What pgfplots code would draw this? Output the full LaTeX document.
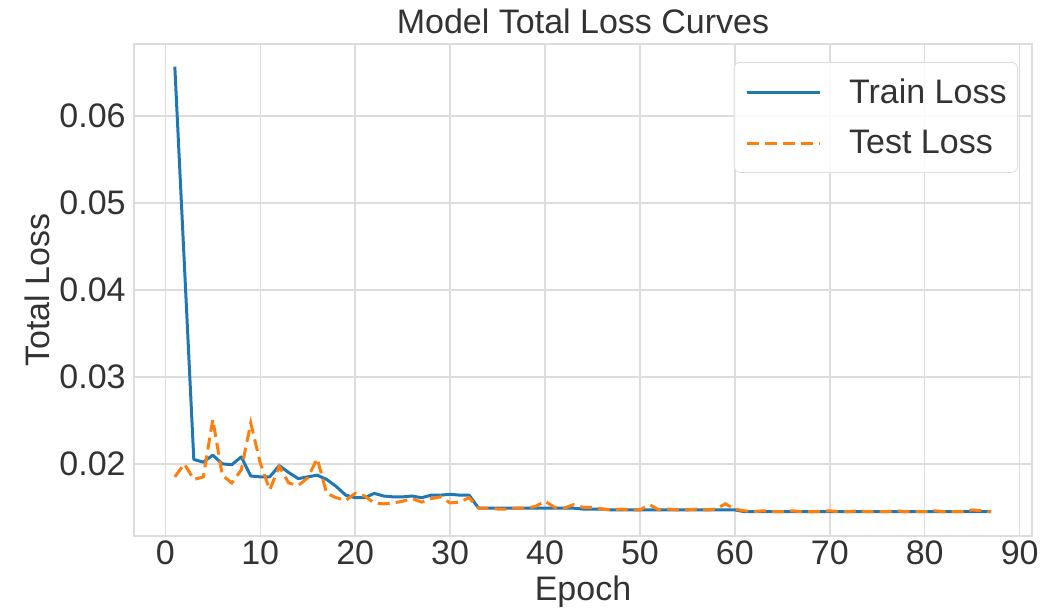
\documentclass[border=0pt]{standalone}
\usepackage{pgfplots}
\pgfplotsset{compat=1.18}
\usepackage{pgfplotstable}
\usepackage{fontspec}
\setmainfont{Liberation Sans}
\definecolor{trainc}{HTML}{1F77B4}
\definecolor{testc}{HTML}{FF7F0E}
\definecolor{gridc}{HTML}{DDDDDD}
\definecolor{txt}{HTML}{333333}

\pgfplotstableread{
epoch train test
1 0.0657 0.0185
2 0.0431 0.0200
3 0.0205 0.0182
4 0.0202 0.0185
5 0.0210 0.0251
6 0.0200 0.0187
7 0.0199 0.0178
8 0.0208 0.0193
9 0.0186 0.0247
10 0.0185 0.0201
11 0.0185 0.0170
12 0.0198 0.0197
13 0.0190 0.0178
14 0.0183 0.0175
15 0.0185 0.0184
16 0.0187 0.0206
17 0.0182 0.0166
18 0.0174 0.0161
19 0.0164 0.0158
20 0.0161 0.0166
21 0.0161 0.0163
22 0.0166 0.0155
23 0.0163 0.0154
24 0.0162 0.0155
25 0.0162 0.0157
26 0.0163 0.0160
27 0.0161 0.0156
28 0.0164 0.0160
29 0.0164 0.0162
30 0.0165 0.0155
31 0.0164 0.0156
32 0.0164 0.0161
33 0.0149 0.0149
34 0.0149 0.0149
35 0.0149 0.0148
36 0.0149 0.0148
37 0.0149 0.0149
38 0.0149 0.0149
39 0.0149 0.0151
40 0.0149 0.0157
41 0.0149 0.0150
42 0.0149 0.0149
43 0.0149 0.0153
44 0.0148 0.0150
45 0.0148 0.0150
46 0.0148 0.0148
47 0.0147 0.0147
48 0.0147 0.0148
49 0.0147 0.0147
50 0.0147 0.0147
51 0.0147 0.0153
52 0.0147 0.0147
53 0.0147 0.0148
54 0.0147 0.0147
55 0.0147 0.0147
56 0.0147 0.0148
57 0.0147 0.0147
58 0.0147 0.0148
59 0.0147 0.0154
60 0.0147 0.0148
61 0.0145 0.0146
62 0.0145 0.0145
63 0.0145 0.0146
64 0.0145 0.0145
65 0.0145 0.0145
66 0.0145 0.0146
67 0.0145 0.0145
68 0.0145 0.0145
69 0.0145 0.0145
70 0.0145 0.0146
71 0.0145 0.0145
72 0.0145 0.0145
73 0.0145 0.0146
74 0.0145 0.0145
75 0.0145 0.0145
76 0.0145 0.0145
77 0.0145 0.0146
78 0.0145 0.0145
79 0.0145 0.0145
80 0.0145 0.0145
81 0.0145 0.0146
82 0.0145 0.0145
83 0.0145 0.0145
84 0.0145 0.0145
85 0.0145 0.0147
86 0.0145 0.0146
87 0.0145 0.0145
}\losses

\begin{document}
\begin{tikzpicture}
\useasboundingbox (0,0) rectangle (532pt,306.5pt);
\begin{axis}[
    at={(67pt,38.5pt)}, anchor=south west,
    scale only axis,
    width=449pt, height=246pt,
    xmin=-3.3, xmax=91.3,
    ymin=0.0117, ymax=0.0683,
    xtick={0,10,...,90},
    ytick={0.02,0.03,0.04,0.05,0.06},
    major tick length=0pt,
    grid=major,
    major grid style={gridc, line width=0.75pt},
    axis line style={gridc, line width=0.75pt},
    font=\fontsize{17pt}{20pt}\selectfont,
    every tick label/.append style={txt},
    /pgf/number format/assume math mode=true,
    yticklabel style={/pgf/number format/fixed, /pgf/number format/fixed zerofill,
        /pgf/number format/precision=2, inner sep=0pt, xshift=-4pt},
    scaled y ticks=false,
    xticklabel style={inner sep=0pt, yshift=-2pt},
    title={Model Total Loss Curves},
    title style={at={(axis description cs:0.5,1)}, anchor=base, yshift=-1pt, txt, inner sep=0pt},
    xlabel={Epoch},
    xlabel style={at={(axis description cs:0.5,-0.132)}, anchor=base, txt, inner sep=0pt},
    ylabel={Total Loss},
    ylabel style={at={(axis description cs:-0.0935,0.5)}, anchor=south, rotate=0, txt, inner sep=0pt},
    legend style={at={(1,1)}, anchor=north east, xshift=-7pt, yshift=-9pt,
        draw=gridc, rounded corners=3pt, fill=white, fill opacity=0.85, text opacity=1,
        inner xsep=5.5pt, inner ysep=8pt, row sep=12pt, column sep=14pt,
        nodes={inner sep=0pt, anchor=west, text=txt}},
    legend cell align=left,
    legend image code/.code={\draw[#1] (0pt,0pt) -- (36.5pt,0pt);},
]
\addplot[trainc, line width=1.5pt, line join=round] table[x=epoch, y=train] {\losses};
\addlegendentry{Train Loss}
\addplot[testc, line width=1.5pt, dash pattern=on 6pt off 3pt] table[x=epoch, y=test] {\losses};
\addlegendentry{Test Loss}
\end{axis}
\end{tikzpicture}
\end{document}
